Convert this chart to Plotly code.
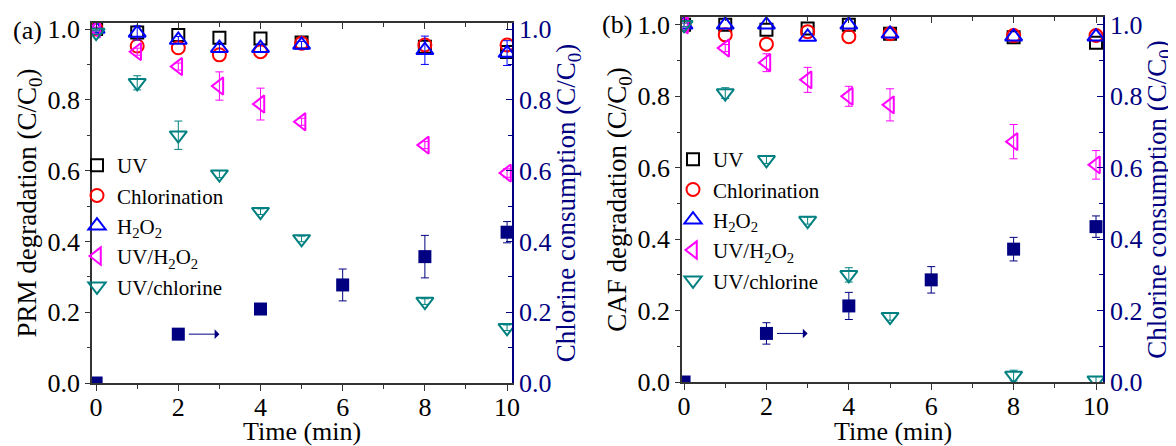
import plotly.graph_objects as go

# ---------------- data ----------------
time = [0, 1, 2, 3, 4, 5, 8, 10]
cons_time = [0, 2, 4, 6, 8, 10]

# panel (a) PRM
prm_uv = [1.0, 0.99, 0.983, 0.975, 0.973, 0.962, 0.95, 0.935]
prm_cl = [1.0, 0.952, 0.947, 0.927, 0.936, 0.96, 0.955, 0.955]
prm_h2o2 = [1.0, 0.989, 0.969, 0.946, 0.946, 0.955, 0.94, 0.932]
prm_h2o2_err = [0.005, 0.02, 0.01, 0.01, 0.01, 0.01, 0.04, 0.035]
prm_uvh2o2 = [1.0, 0.936, 0.894, 0.839, 0.788, 0.738, 0.672, 0.593]
prm_uvh2o2_err = [0.005, 0.01, 0.01, 0.04, 0.045, 0.01, 0.01, 0.012]
prm_uvcl = [0.99, 0.848, 0.70, 0.59, 0.484, 0.407, 0.23, 0.156]
prm_uvcl_err = [0.005, 0.02, 0.04, 0.01, 0.008, 0.008, 0.008, 0.008]
prm_cons = [0.0, 0.138, 0.209, 0.277, 0.357, 0.426]
prm_cons_err = [0.0, 0.005, 0.008, 0.045, 0.06, 0.03]

# panel (b) CAF
caf_uv = [1.0, 1.0, 0.986, 0.99, 1.0, 0.975, 0.965, 0.95]
caf_cl = [1.0, 0.972, 0.946, 0.981, 0.967, 0.975, 0.97, 0.97]
caf_h2o2 = [1.0, 1.0, 1.0, 0.966, 1.0, 0.975, 0.967, 0.967]
caf_uvh2o2 = [1.0, 0.935, 0.894, 0.846, 0.80, 0.776, 0.673, 0.608]
caf_uvh2o2_err = [0.005, 0.01, 0.025, 0.035, 0.028, 0.045, 0.048, 0.04]
caf_uvcl = [1.0, 0.809, 0.622, 0.452, 0.30, 0.183, 0.018, 0.005]
caf_uvcl_err = [0.005, 0.015, 0.01, 0.01, 0.02, 0.01, 0.015, 0.01]
caf_cons = [0.0, 0.136, 0.213, 0.286, 0.372, 0.435]
caf_cons_err = [0.0, 0.03, 0.038, 0.037, 0.033, 0.03]

series_names = ["UV", "Chlorination", "H<sub>2</sub>O<sub>2</sub>",
                "UV/H<sub>2</sub>O<sub>2</sub>", "UV/chlorine"]
tick_vals = [0.0, 0.2, 0.4, 0.6, 0.8, 1.0]
x_ticks = [0, 2, 4, 6, 8, 10]
x_title = "Time (min)"

# ---------------- styles ----------------
FONT = "Liberation Serif"
NAVY = "#000080"
AX = "#333333"
styles = [
    ("square-open", "#000000", 12),
    ("circle-open", "#FF0000", 13),
    ("triangle-up-open", "#0000FF", 15),
    ("triangle-left-open", "#FF00FF", 15),
    ("triangle-down-open", "#008080", 15),
]

# page body has an 8px margin: the figure is drawn from (8, 8) in the window
OX, OY = 8, 8
W, H = 1176 - OX, 446 - OY


def px(x):
    return (x - OX) / W


def py(y):
    return 1 - (y - OY) / H


fig = go.Figure()


def add_panel(xa, ya, ya2, xa_top, xa_bot, legend, ys, errs, cons, cons_err):
    for (sym, col, sz), name, y, e in zip(styles, series_names, ys, errs):
        fig.add_trace(go.Scatter(
            x=time, y=y, mode="markers", name=name, legend=legend,
            xaxis=xa, yaxis=ya,
            marker=dict(symbol=sym, color=col, size=sz, line=dict(color=col, width=2)),
            error_y=(dict(type="data", array=e, color=col, thickness=1, width=4)
                     if e is not None else None),
        ))
    fig.add_trace(go.Scatter(
        x=cons_time, y=cons, mode="markers", showlegend=False,
        xaxis=xa, yaxis=ya2,
        marker=dict(symbol="square", color=NAVY, size=13),
        error_y=dict(type="data", array=cons_err, color=NAVY, thickness=1, width=4),
    ))
    # empty traces that create the tick-only axes (top and bottom)
    for xt in (xa_top, xa_bot):
        fig.add_trace(go.Scatter(x=[], y=[], xaxis=xt, yaxis=ya, showlegend=False,
                                 hoverinfo="skip"))
    # arrow pointing to the right axis, anchored on the t=2 consumption point
    fig.add_annotation(
        x=cons_time[1] + 1.0, y=cons[1], ax=cons_time[1] + 0.22, ay=cons[1],
        xref=xa, yref=ya2, axref=xa, ayref=ya2,
        showarrow=True, arrowhead=1, arrowsize=1.6, arrowwidth=1, arrowcolor=NAVY, text="",
    )


add_panel("x", "y", "y2", "x3", "x5", "legend",
          [prm_uv, prm_cl, prm_h2o2, prm_uvh2o2, prm_uvcl],
          [None, None, prm_h2o2_err, prm_uvh2o2_err, prm_uvcl_err],
          prm_cons, prm_cons_err)
add_panel("x2", "y3", "y4", "x4", "x6", "legend2",
          [caf_uv, caf_cl, caf_h2o2, caf_uvh2o2, caf_uvcl],
          [None, None, None, caf_uvh2o2_err, caf_uvcl_err],
          caf_cons, caf_cons_err)

tickfont = dict(family=FONT, size=26, color="black")
titlefont = dict(family=FONT, size=27, color="black")
xtitlefont = dict(family=FONT, size=26, color="black")


def xaxis_cfg(domain, rng, anchor):
    # labels only (ticks are drawn by the overlaid bottom tick axis)
    return dict(domain=domain, range=rng, anchor=anchor, tickvals=x_ticks,
                automargin=False, ticks="",
                showline=True, linecolor=AX, linewidth=1.5, zeroline=False,
                showgrid=False, tickfont=tickfont)


def xtick_cfg(rng, over, anchor, side, direction):
    return dict(overlaying=over, side=side, range=rng, anchor=anchor,
                automargin=False,
                tickvals=x_ticks, ticks=direction, ticklen=6, tickwidth=1.2, tickcolor=AX,
                minor=dict(dtick=1, tick0=0, ticks=direction, ticklen=4, tickcolor=AX),
                showticklabels=False, showline=True, linecolor=AX, linewidth=1.5,
                showgrid=False, zeroline=False)


def yleft_cfg(domain, rng, anchor, title):
    return dict(domain=domain, range=rng, anchor=anchor, tickvals=tick_vals,
                automargin=False,
                tickformat=".1f", ticks="outside", ticklen=5, tickcolor=AX,
                minor=dict(dtick=0.1, tick0=0, ticks="outside", ticklen=3, tickcolor=AX),
                showline=True, linecolor=AX, linewidth=1.5, zeroline=False,
                showgrid=False, tickfont=tickfont,
                title=dict(text=title, font=titlefont, standoff=3))


def yright_cfg(rng, over, anchor):
    return dict(overlaying=over, side="right", range=rng, anchor=anchor,
                automargin=False,
                tickvals=tick_vals, tickformat=".1f", ticks="inside", ticklen=6,
                tickcolor=NAVY,
                minor=dict(dtick=0.1, tick0=0, ticks="inside", ticklen=4, tickcolor=NAVY),
                showline=True, linecolor=NAVY, linewidth=1.5, zeroline=False,
                showgrid=False, tickfont=dict(family=FONT, size=26, color=NAVY),
                title=dict(text="Chlorine consumption (C/C<sub>0</sub>)",
                           font=dict(family=FONT, size=27, color=NAVY), standoff=0))


# plot-area boxes in window pixels
xa_dom = [px(92), px(512)]
xb_dom = [px(682), px(1103)]
ya_dom = [py(383), py(23)]
yb_dom = [py(382), py(17)]
xa_rng = [-0.1, 10.12]
xb_rng = [-0.05, 10.17]
ya_rng = [0, 1.017]
yb_rng = [0, 1.022]

legend_common = dict(font=dict(family=FONT, size=21, color="black"),
                     bgcolor="rgba(0,0,0,0)", xanchor="left", yanchor="top",
                     itemwidth=30, tracegroupgap=0)

fig.update_layout(
    width=W, height=H, margin=dict(l=0, r=0, t=0, b=0, autoexpand=False),
    paper_bgcolor="white", plot_bgcolor="white",
    font=dict(family=FONT),
    xaxis=xaxis_cfg(xa_dom, xa_rng, "y"),
    xaxis2=xaxis_cfg(xb_dom, xb_rng, "y3"),
    xaxis3=xtick_cfg(xa_rng, "x", "y", "top", "inside"),
    xaxis4=xtick_cfg(xb_rng, "x2", "y3", "top", "inside"),
    xaxis5=xtick_cfg(xa_rng, "x", "y", "bottom", "outside"),
    xaxis6=xtick_cfg(xb_rng, "x2", "y3", "bottom", "outside"),
    yaxis=yleft_cfg(ya_dom, ya_rng, "x", "PRM degradation (C/C<sub>0</sub>)"),
    yaxis2=yright_cfg(ya_rng, "y", "x"),
    yaxis3=yleft_cfg(yb_dom, yb_rng, "x2", "CAF degradation (C/C<sub>0</sub>)"),
    yaxis4=yright_cfg(yb_rng, "y3", "x2"),
    legend=dict(x=px(77), y=py(145), **legend_common),
    legend2=dict(x=px(673), y=py(139), **legend_common),
)
# x-axis titles
for dom in (xa_dom, xb_dom):
    fig.add_annotation(x=(dom[0] + dom[1]) / 2, y=py(431), xref="paper", yref="paper",
                       text=x_title, showarrow=False, xanchor="center", yanchor="middle",
                       font=xtitlefont)
fig.add_annotation(x=px(11), y=py(30), xref="paper", yref="paper", text="(a)",
                   showarrow=False, xanchor="left", yanchor="middle",
                   font=dict(family=FONT, size=26, color="black"))
fig.add_annotation(x=px(600), y=py(25), xref="paper", yref="paper", text="(b)",
                   showarrow=False, xanchor="left", yanchor="middle",
                   font=dict(family=FONT, size=26, color="black"))

fig.write_html("out.html")
